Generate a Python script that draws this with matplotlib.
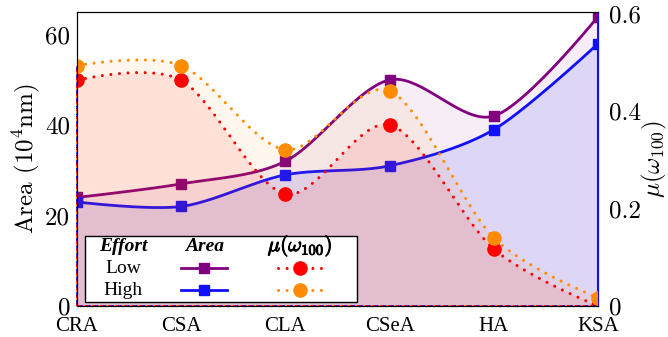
import numpy as np
import matplotlib.pyplot as plt
import matplotlib.patheffects as pe
from matplotlib.patches import Rectangle
from matplotlib.lines import Line2D

plt.rcParams['font.family'] = 'serif'
plt.rcParams['font.serif'] = ['Liberation Serif', 'DejaVu Serif']
plt.rcParams['mathtext.fontset'] = 'cm'
plt.rcParams['axes.unicode_minus'] = False

methods = ['CRA', 'CSA', 'CLA', 'CSeA', 'HA', 'KSA']
area_low = [24, 27, 32, 50, 42, 64]
area_high = [23, 22, 29, 31, 39, 58]
mu_low = [0.464, 0.464, 0.230, 0.372, 0.117, 0.0]
mu_high = [0.494, 0.494, 0.321, 0.442, 0.140, 0.017]

c_low, c_high = '#800080', '#1010ff'
c_mu_low, c_mu_high = '#ff0000', '#ff8c00'


def smooth(xs, ys, k=0.15, n=40):
    # bezier through the points, tikz-style smooth plot
    p = np.column_stack([xs, ys]).astype(float)
    t = np.linspace(0, 1, n)[:, None]
    out = []
    for i in range(len(p) - 1):
        a, b = p[i], p[i + 1]
        c1 = a + k * (p[i + 1] - p[i - 1]) if i > 0 else a
        c2 = b - k * (p[i + 2] - p[i]) if i < len(p) - 2 else b
        seg = (1-t)**3*a + 3*(1-t)**2*t*c1 + 3*(1-t)*t**2*c2 + t**3*b
        out.append(seg if i == 0 else seg[1:])
    s = np.vstack(out)
    return s[:, 0], s[:, 1]


x = np.arange(len(methods))

fig = plt.figure(figsize=(6.68, 3.37), dpi=100)
ax = fig.add_axes([0.1153, 0.092, 0.78, 0.8724])
ax2 = ax.twinx()

# area curves
for vals, col, a in [(area_low, c_low, 0.07), (area_high, c_high, 0.10)]:
    sx, sy = smooth(x, vals)
    ax.fill_between(sx, 0, sy, color=col, alpha=a, lw=0)
    ax.plot(sx, sy, color=col, lw=2.0)
    ax.plot(x, vals, 's', color=col, ms=7.5)

ax.vlines(x[-1], area_high[-1], area_low[-1], color=c_low, lw=1.5)
ax.vlines(x[-1], 0, area_high[-1], color=c_high, lw=1.5)

# mu curves
for vals, col, a in [(mu_low, c_mu_low, 0.09), (mu_high, c_mu_high, 0.07)]:
    sx, sy = smooth(x, vals)
    ax2.fill_between(sx, 0, sy, color=col, alpha=a, lw=0)
    ax2.plot(sx, sy, color=col, lw=2.2, linestyle=(0, (0.01, 2.8)),
             dash_capstyle='round')
    ax2.plot(x, vals, 'o', color=col, ms=9.5)

# dashed fill borders on left and bottom
edge_cols = [c_mu_low, c_mu_high, c_high, c_low]
for i, col in enumerate(edge_cols):
    ax2.plot([x[0], x[0]], [0, mu_high[0]], color=col, lw=1.4,
             linestyle=(i * 1.0, (1.0, 3.0)), clip_on=False)
    ax2.plot([x[0], x[-1]], [0, 0], color=col, lw=1.4,
             linestyle=(i * 1.0, (1.0, 3.0)), clip_on=False)

ax.set_xlim(x[0], x[-1])
ax.set_ylim(0, 65)
ax2.set_ylim(0, 0.604)
ax.set_xticks(x)
ax.set_xticklabels(methods)
ax.set_yticks([0, 20, 40, 60])
ax2.set_yticks([0, 0.2, 0.4, 0.6])
ax2.set_yticklabels(['0', '0.2', '0.4', '0.6'])
ax.tick_params(axis='x', length=0, labelsize=15, pad=8)
ax.tick_params(axis='y', length=0, labelsize=18, pad=5)
ax2.tick_params(length=0, labelsize=18, pad=8)
for lab in ax.get_yticklabels() + ax2.get_yticklabels():
    lab.set_fontfamily('cmr10')

for sp in ['top', 'left', 'bottom', 'right']:
    ax2.spines[sp].set_linewidth(0.8)
ax2.spines['right'].set_color(c_high)

ax.set_ylabel(r'Area $(10^4\mathrm{nm})$', fontsize=18, fontfamily='cmr10',
              labelpad=2)
ax2.set_ylabel(r'$\mu(\omega_{100})$', fontsize=18, labelpad=-1)

# table-style legend
tr = ax2.transAxes
bold = [pe.withStroke(linewidth=0.7, foreground='black')]
ax2.add_patch(Rectangle((0.015, 0.014), 0.522, 0.224, transform=tr,
                        facecolor='white', edgecolor='black', lw=1.0,
                        zorder=10, clip_on=False))
ax2.text(0.088, 0.204, 'Effort', transform=tr, ha='center', va='center',
         fontsize=14, fontweight='bold', fontstyle='italic', zorder=11)
ax2.text(0.244, 0.204, 'Area', transform=tr, ha='center', va='center',
         fontsize=14, fontweight='bold', fontstyle='italic', zorder=11)
ax2.text(0.428, 0.204, r'$\mu(\omega_{100})$', transform=tr, ha='center',
         va='center', fontsize=15, zorder=11, path_effects=bold)
rows = [('Low', 0.129, c_low, c_mu_low), ('High', 0.054, c_high, c_mu_high)]
for name, yy, ca, cm in rows:
    ax2.text(0.088, yy, name, transform=tr, ha='center', va='center',
             fontsize=14, zorder=11)
    ax2.add_line(Line2D([0.2, 0.288], [yy, yy], transform=tr, color=ca,
                        lw=2.0, zorder=11))
    ax2.add_line(Line2D([0.244], [yy], transform=tr, color=ca, marker='s',
                        ms=7.5, zorder=12))
    ax2.add_line(Line2D([0.386, 0.472], [yy, yy], transform=tr, color=cm,
                        lw=2.2, linestyle=(0, (0.01, 2.8)),
                        dash_capstyle='round', zorder=11))
    ax2.add_line(Line2D([0.428], [yy], transform=tr, color=cm, marker='o',
                        ms=9.5, zorder=12))

fig.savefig('out.png', dpi=100)
